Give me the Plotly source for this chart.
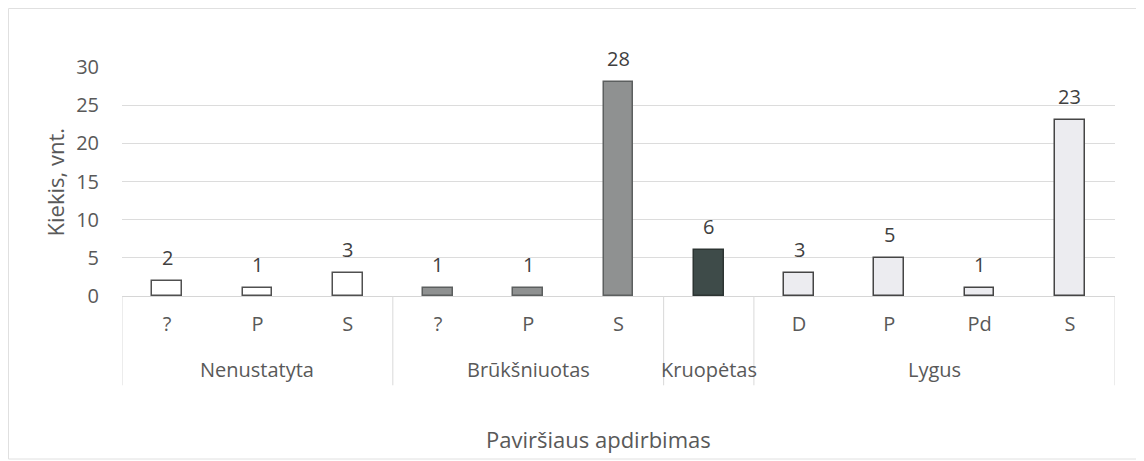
import plotly.graph_objects as go

groups = ["Nenustatyta"] * 3 + ["Brūkšniuotas"] * 3 + ["Kruopėtas"] + ["Lygus"] * 4
subcats = ["?", "P", "S", "?", "P", "S", "", "D", "P", "Pd", "S"]
counts = [2, 1, 3, 1, 1, 28, 6, 3, 5, 1, 23]

fill = {"Nenustatyta": "#ffffff", "Brūkšniuotas": "#8f9191",
        "Kruopėtas": "#3e4b49", "Lygus": "#ececf0"}
edge = {"Nenustatyta": "#505050", "Brūkšniuotas": "#5c5f5f",
        "Kruopėtas": "#2c3432", "Lygus": "#454545"}

font = "Open Sans, sans-serif"
keys = [f"{g}|{s}|{i}" for i, (g, s) in enumerate(zip(groups, subcats))]

fig = go.Figure(go.Bar(
    x=keys,
    y=counts,
    width=0.33,
    marker=dict(color=[fill[g] for g in groups],
                line=dict(color=[edge[g] for g in groups], width=1.5)),
    cliponaxis=False,
    hovertext=[f"{g} {s}" for g, s in zip(groups, subcats)],
))

# data labels above the bars
for k, v in zip(keys, counts):
    fig.add_annotation(x=k, y=v, text=str(v), showarrow=False, yanchor="bottom",
                       yshift=8, font=dict(size=20, color="#404040"))

# group labels and dividers of the two-level category axis
order = list(dict.fromkeys(groups))
bounds = [-0.5]
for g in order:
    idx = [i for i, gg in enumerate(groups) if gg == g]
    fig.add_annotation(x=sum(idx) / len(idx), xref="x", y=-0.323, yref="paper",
                       text=g, showarrow=False, yanchor="middle",
                       font=dict(size=20, color="#595959"))
    bounds.append(idx[-1] + 0.5)
for b in bounds:
    fig.add_shape(type="line", xref="x", yref="paper", x0=b, x1=b, y0=0, y1=-0.39,
                  line=dict(color="#d9d9d9", width=1))

# axis titles
fig.add_annotation(x=0.48, xref="paper", y=-0.6245, yref="paper",
                   text="Paviršiaus apdirbimas", showarrow=False, yanchor="middle",
                   font=dict(size=22, color="#595959"))
fig.add_annotation(x=-0.0675, xref="paper", y=0.5, yref="paper", textangle=-90,
                   text="Kiekis, vnt.", showarrow=False, xanchor="center",
                   yanchor="middle", font=dict(size=22, color="#595959"))

# outer chart frame
fig.add_shape(type="rect", xref="paper", yref="paper",
              x0=-0.1143, x1=1.0262, y0=-0.7118, y1=1.2555,
              line=dict(color="#e0e0e0", width=1))

fig.update_layout(
    width=1144, height=461,
    margin=dict(l=114, r=37, t=59, b=173, autoexpand=False),
    paper_bgcolor="white", plot_bgcolor="white",
    font=dict(family=font, color="#595959", size=20),
    showlegend=False,
    bargap=0,
)
fig.update_yaxes(
    range=[0, 30], dtick=5, showgrid=True, gridcolor="#dcdcdc", gridwidth=1,
    zeroline=False, tickfont=dict(size=20), ticklabelstandoff=22, automargin=False,
)
fig.update_xaxes(
    type="category", tickvals=keys, ticktext=subcats, range=[-0.5, 10.5],
    showline=True, linecolor="#d6d6d6", showgrid=False, automargin=False,
    tickfont=dict(size=20), ticklabelstandoff=10,
)

fig.write_html("out.html")
